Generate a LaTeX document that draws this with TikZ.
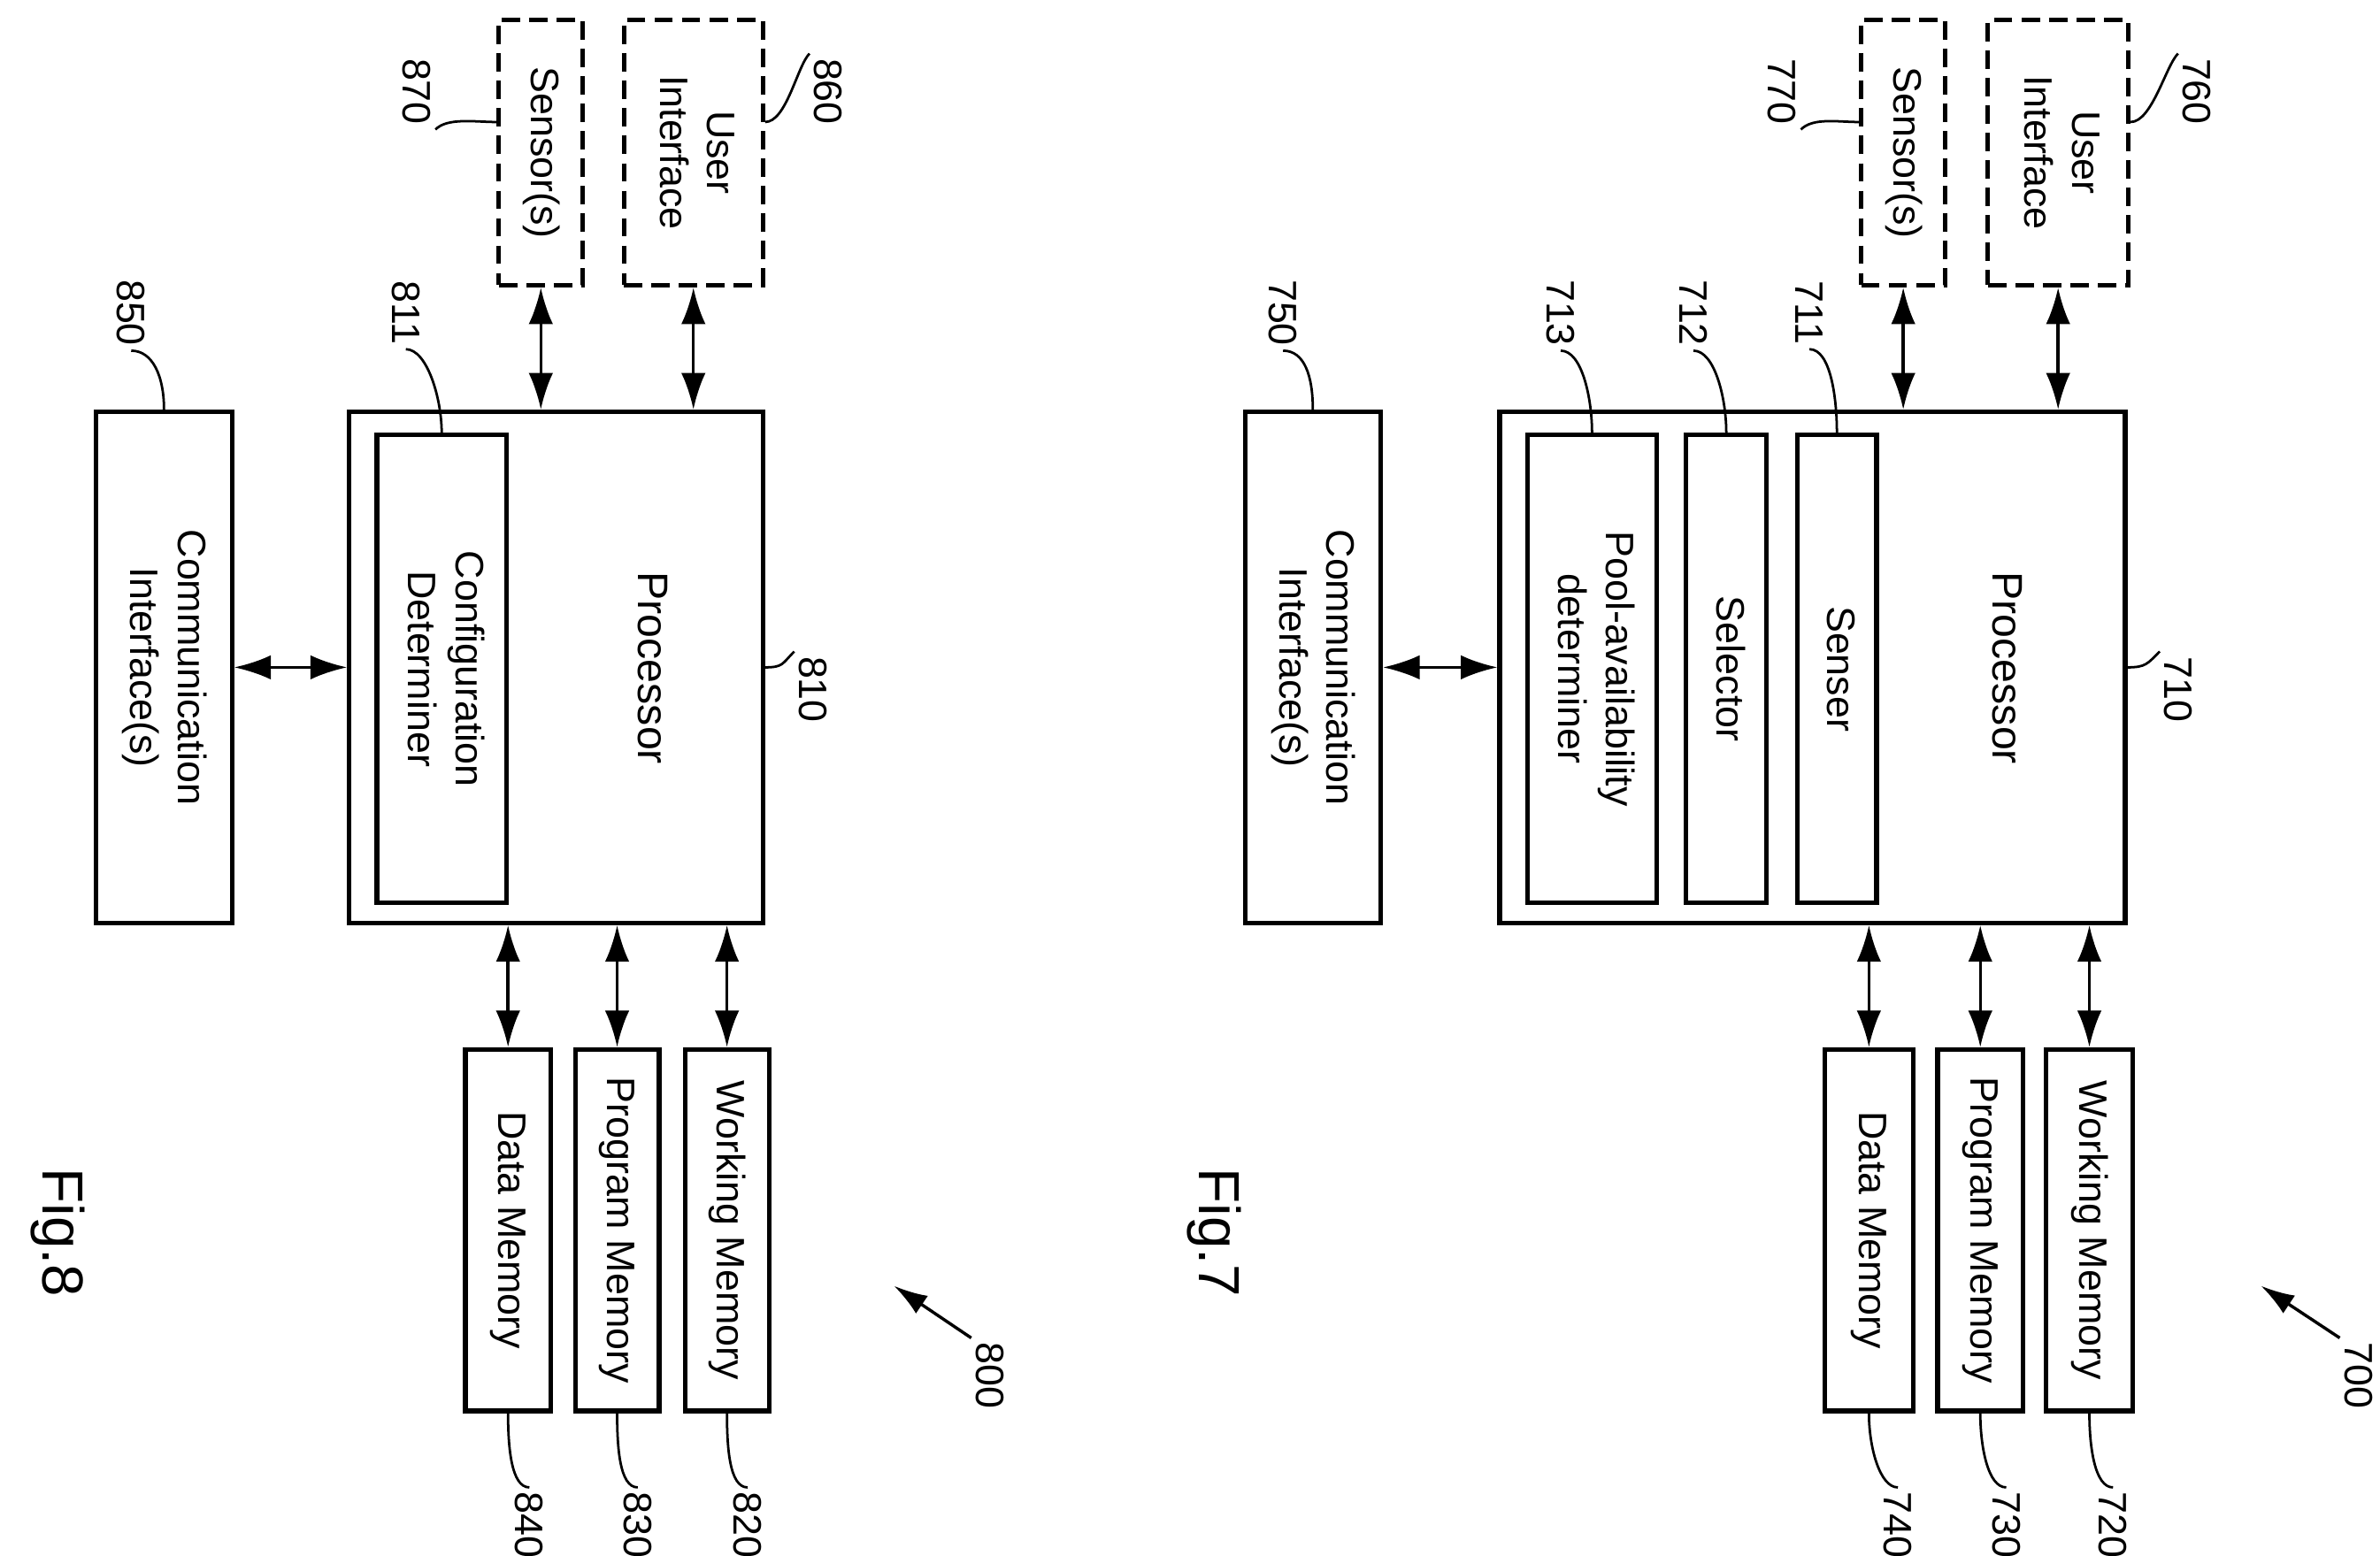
\documentclass[tikz,border=0pt]{standalone}
\usepackage{fontspec}
\setmainfont{Liberation Sans}
\usetikzlibrary{arrows.meta,calc}

\tikzset{
  box/.style={draw, line width=3pt, inner sep=0pt, align=center, font=\fontsize{26}{31}\selectfont},
  opt/.style={box, dashed, dash pattern=on 12pt off 6pt},
  num/.style={rotate=-90, inner sep=3pt, font=\fontsize{26}{30}\selectfont},
  arr/.style={line width=2pt, {Latex[length=24pt,width=16pt]}-{Latex[length=24pt,width=16pt]}},
  lead/.style={line width=1.6pt},
}
\newcommand{\rot}[1]{\rotatebox{-90}{\begin{tabular}{c}#1\end{tabular}}}

\begin{document}
\begin{tikzpicture}[x=1pt,y=-1pt]
\useasboundingbox (0,0) rectangle (1560,1020);

% Fig. 7
\node[box, minimum width=410, minimum height=335] (p7) at (1188,437.5) {};
\node[num, font=\fontsize{28}{32}\selectfont] (t7) at (1316,438) {Processor};
\node[box, minimum width=52, minimum height=307] (sen7) at (1204,438.5) {\rot{Senser}};
\node[box, minimum width=53, minimum height=307] (sel7) at (1131.5,438.5) {\rot{Selector}};
\node[box, minimum width=85, minimum height=307] (pool7) at (1043.5,438.5) {\rot{Pool-availability\\determiner}};
\node[opt, minimum width=55, minimum height=174] (sns7) at (1247.5,100) {\rot{Sensor(s)}};
\node[opt, minimum width=92, minimum height=174] (ui7) at (1349,100) {\rot{User\\Interface}};
\node[box, minimum width=89, minimum height=335] (ci7) at (860.5,437.5) {\rot{Communication\\Interface(s)}};
\node[box, minimum width=58, minimum height=237] (dm7) at (1225,806.5) {\rot{Data Memory}};
\node[box, minimum width=56, minimum height=237] (pm7) at (1298,806.5) {\rot{Program Memory}};
\node[box, minimum width=57, minimum height=237] (wm7) at (1369.5,806.5) {\rot{Working Memory}};

\draw[arr] (sns7.south) -- (p7.north -| sns7.south);
\draw[arr] (ui7.south) -- (p7.north -| ui7.south);
\draw[arr] (ci7.east) -- (p7.west);
\draw[arr] (dm7.north) -- (p7.south -| dm7.north);
\draw[arr] (pm7.north) -- (p7.south -| pm7.north);
\draw[arr] (wm7.north) -- (p7.south -| wm7.north);

\node[num] (n710) at (1428,452) {710};
\node[num] (n711) at (1186,205) {711};
\node[num] (n712) at (1110,205) {712};
\node[num] (n713) at (1023,205) {713};
\node[num] (n750) at (841,205) {750};
\node[num] (n760) at (1440,60) {760};
\node[num] (n770) at (1168,60) {770};
\node[num] (n720) at (1385,1000) {720};
\node[num] (n730) at (1315,1000) {730};
\node[num] (n740) at (1244,1000) {740};
\node[num] (n700) at (1546,902) {700};
\coordinate (e700) at (1482,843);
\node[num, font=\fontsize{38}{42}\selectfont] (f7) at (796,808) {Fig.7};

\draw[lead] (p7.east) .. controls +(12,0) and +(-8,8) .. (n710.south west);
\draw[lead] (n711.east) .. controls +(14,0) and +(0,-22) .. (sen7.north);
\draw[lead] (n712.east) .. controls +(14,0) and +(0,-22) .. (sel7.north);
\draw[lead] (n713.east) .. controls +(14,0) and +(0,-22) .. (pool7.north);
\draw[lead] (n750.east) .. controls +(14,0) and +(0,-22) .. (ci7.north);
\draw[lead] ([yshift=20pt]ui7.east) .. controls +(14,0) and +(-8,8) .. (n760.south west);
\draw[lead] ([yshift=20pt]sns7.west) .. controls +(-14,0) and +(8,-8) .. (n770.north east);
\draw[lead] (wm7.south) .. controls +(0,22) and +(-12,0) .. (n720.west);
\draw[lead] (pm7.south) .. controls +(0,22) and +(-12,0) .. (n730.west);
\draw[lead] (dm7.south) .. controls +(0,22) and +(-12,0) .. (n740.west);
\draw[line width=2pt, -{Latex[length=22pt,width=14pt]}] (n700.south west) -- (e700);

% Fig. 8
\node[box, minimum width=271, minimum height=335] (p8) at (364.5,437.5) {};
\node[num, font=\fontsize{28}{32}\selectfont] (t8) at (428,438) {Processor};
\node[box, minimum width=85, minimum height=307] (cfg8) at (289.5,438.5) {\rot{Configuration\\Determiner}};
\node[opt, minimum width=55, minimum height=174] (sns8) at (354.5,100) {\rot{Sensor(s)}};
\node[opt, minimum width=91, minimum height=174] (ui8) at (454.5,100) {\rot{User\\Interface}};
\node[box, minimum width=89, minimum height=335] (ci8) at (107.5,437.5) {\rot{Communication\\Interface(s)}};
\node[box, minimum width=56, minimum height=237] (dm8) at (333,806.5) {\rot{Data Memory}};
\node[box, minimum width=55, minimum height=237] (pm8) at (404.5,806.5) {\rot{Program Memory}};
\node[box, minimum width=55, minimum height=237] (wm8) at (476.5,806.5) {\rot{Working Memory}};

\draw[arr] (sns8.south) -- (p8.north -| sns8.south);
\draw[arr] (ui8.south) -- (p8.north -| ui8.south);
\draw[arr] (ci8.east) -- (p8.west);
\draw[arr] (dm8.north) -- (p8.south -| dm8.north);
\draw[arr] (pm8.north) -- (p8.south -| pm8.north);
\draw[arr] (wm8.north) -- (p8.south -| wm8.north);

\node[num] (n810) at (533,452) {810};
\node[num] (n811) at (266,205) {811};
\node[num] (n850) at (86,205) {850};
\node[num] (n860) at (543,60) {860};
\node[num] (n870) at (273,60) {870};
\node[num] (n820) at (490,1000) {820};
\node[num] (n830) at (418,1000) {830};
\node[num] (n840) at (347,1000) {840};
\node[num] (n800) at (649,902) {800};
\coordinate (e800) at (586,843);
\node[num, font=\fontsize{38}{42}\selectfont] (f8) at (38,808) {Fig.8};

\draw[lead] (p8.east) .. controls +(12,0) and +(-8,8) .. (n810.south west);
\draw[lead] (n811.east) .. controls +(14,0) and +(0,-22) .. (cfg8.north);
\draw[lead] (n850.east) .. controls +(14,0) and +(0,-22) .. (ci8.north);
\draw[lead] ([yshift=20pt]ui8.east) .. controls +(14,0) and +(-8,8) .. (n860.south west);
\draw[lead] ([yshift=20pt]sns8.west) .. controls +(-14,0) and +(8,-8) .. (n870.north east);
\draw[lead] (wm8.south) .. controls +(0,22) and +(-12,0) .. (n820.west);
\draw[lead] (pm8.south) .. controls +(0,22) and +(-12,0) .. (n830.west);
\draw[lead] (dm8.south) .. controls +(0,22) and +(-12,0) .. (n840.west);
\draw[line width=2pt, -{Latex[length=22pt,width=14pt]}] (n800.south west) -- (e800);
\end{tikzpicture}
\end{document}
